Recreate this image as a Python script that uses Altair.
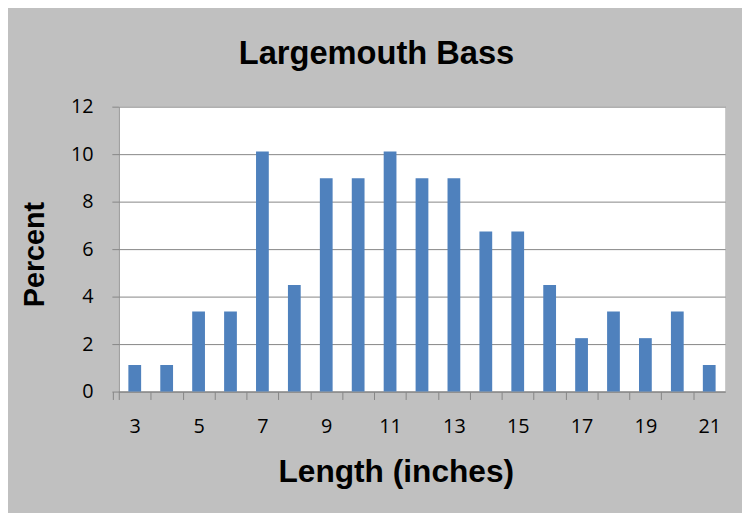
import altair as alt
import pandas as pd

lengths = [3, 4, 5, 6, 7, 8, 9, 10, 11, 12, 13, 14, 15, 16, 17, 18, 19, 20, 21]
percent = [1.12, 1.12, 3.37, 3.37, 10.11, 4.49, 8.99, 8.99, 10.11, 8.99, 8.99,
           6.74, 6.74, 4.49, 2.25, 3.37, 2.25, 3.37, 1.12]
y_ticks = [0, 2, 4, 6, 8, 10, 12]

df = pd.DataFrame({"length": lengths, "percent": percent})

grid_col = "#868686"
W = 613
step = W / len(lengths)

chart = alt.Chart(df).mark_bar(color="#4F81BD").encode(
    x=alt.X(
        "length:O",
        sort=lengths,
        scale=alt.Scale(paddingInner=0.6, paddingOuter=0.3),
        axis=alt.Axis(
            title="Length (inches)",
            labelAngle=0,
            labelExpr="datum.value % 2 == 1 ? datum.label : ''",
            tickOffset=-step / 2,
            labelOffset=step / 2,
            tickExtra=True,
            tickSize=8,
            labelPadding=17,
            titleX=280,
            titleY=81,
            titleBaseline="middle",
            titleAlign="center",
            titleFontSize=32,
            grid=False,
        ),
    ),
    y=alt.Y(
        "percent:Q",
        scale=alt.Scale(domain=[0, 12], nice=False),
        axis=alt.Axis(
            title="Percent",
            values=y_ticks,
            tickSize=7,
            labelPadding=19,
            titleX=-85,
            titleY=149,
            titleAngle=-90,
            titleBaseline="middle",
            titleAlign="center",
            titleFontSize=29,
        ),
    ),
).properties(
    width=W,
    height=288,
    title=alt.TitleParams(
        "Largemouth  Bass",
        font="Liberation Sans",
        fontSize=33,
        fontWeight="bold",
        color="#000000",
        anchor="middle",
        dx=-46,
        offset=26,
    ),
    autosize=alt.AutoSizeParams(type="none"),
    padding={"left": 112, "top": 97, "right": 17, "bottom": 120},
    background="#C0C0C0",
).configure_view(
    fill="white",
    stroke=None,
).configure_axis(
    labelFont="Open Sans",
    labelFontSize=20,
    labelColor="#000000",
    tickColor=grid_col,
    domainColor=grid_col,
    gridColor=grid_col,
    titleFont="Liberation Sans",
    titleFontWeight="bold",
    titleColor="#000000",
)

chart.save("out.html", embed_options={"renderer": "svg", "actions": False})
